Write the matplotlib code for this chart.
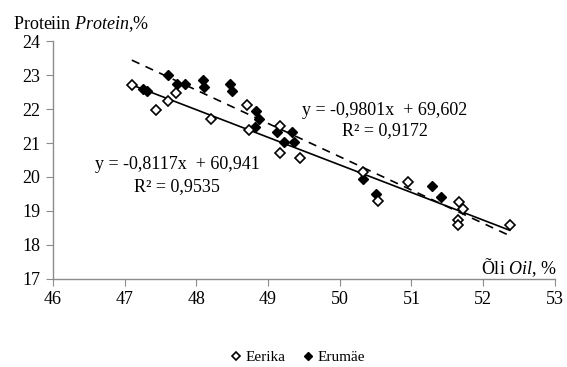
import numpy as np
import matplotlib.pyplot as plt
from matplotlib.lines import Line2D

plt.rcParams['font.family'] = ['Liberation Serif', 'DejaVu Serif']
plt.rcParams['mathtext.fontset'] = 'custom'
plt.rcParams['mathtext.rm'] = 'Liberation Serif'
plt.rcParams['mathtext.it'] = 'Liberation Serif:italic'

# Eerika (avatud rombid)
eerika_oil = [47.10, 47.43, 47.61, 47.71, 48.21, 48.70, 48.73, 49.16, 49.17,
              49.44, 50.32, 50.54, 50.95, 51.67, 51.72, 51.65, 51.65, 52.37]
eerika_prot = [22.70, 21.98, 22.23, 22.46, 21.72, 22.13, 21.37, 21.51, 20.70,
               20.57, 20.15, 19.28, 19.86, 19.26, 19.06, 18.72, 18.59, 18.60]

# Erumäe (täidetud rombid)
erumae_oil = [47.26, 47.31, 47.61, 47.73, 47.84, 48.09, 48.10, 48.47, 48.50,
              48.83, 48.88, 48.82, 49.12, 49.22, 49.34, 49.36, 50.32, 50.51,
              51.29, 51.41]
erumae_prot = [22.60, 22.53, 23.00, 22.75, 22.75, 22.85, 22.65, 22.73, 22.53,
               21.95, 21.72, 21.46, 21.32, 21.02, 21.32, 21.02, 19.93, 19.51,
               19.74, 19.41]

# trendijooned
solid_k, solid_b = -0.8117, 60.941
dash_k, dash_b = -0.9801, 69.602
trend_x = [47.1, 52.37]

fig = plt.figure(figsize=(5.67, 3.67), dpi=100)
ax = fig.add_axes([0.0935, 0.240, 0.885, 0.648])

x = np.array(trend_x)
ax.plot(x, dash_k * x + dash_b, color='black', lw=1.2, ls=(0, (5, 4)), zorder=1)
ax.plot(x, solid_k * x + solid_b, color='black', lw=1.2, zorder=1)

ax.plot(eerika_oil, eerika_prot, 'D', ms=5.2, mfc='white', mec='black', mew=1.2,
        ls='none', zorder=3)
ax.plot(erumae_oil, erumae_prot, 'D', ms=5.2, mfc='black', mec='black', mew=1.0,
        ls='none', zorder=2)

ax.set_xlim(46, 53)
ax.set_ylim(17, 24)
ax.set_xticks(range(46, 54))
ax.set_yticks(range(17, 25))
for s in ['top', 'right']:
    ax.spines[s].set_visible(False)
for s in ['left', 'bottom']:
    ax.spines[s].set_color('#8c8c8c')
    ax.spines[s].set_linewidth(1.0)
ax.tick_params(direction='out', length=5, color='#8c8c8c', labelsize=13, pad=4)

# võrrandid
ax.text(50.63, 21.97, 'y = -0,9801x  + 69,602', fontsize=13, ha='center', va='center')
ax.text(50.63, 21.38, 'R² = 0,9172', fontsize=13, ha='center', va='center')
ax.text(47.73, 20.38, 'y = -0,8117x  + 60,941', fontsize=13, ha='center', va='center')
ax.text(47.73, 19.71, 'R² = 0,9535', fontsize=13, ha='center', va='center')

# telgede pealkirjad
fig.text(0.023, 0.935, 'Proteiin $\\it{Protein}$,%', fontsize=13, ha='left', va='center')
fig.text(0.982, 0.270, 'Õli $\\it{Oil}$, %', fontsize=13, ha='right', va='center')

handles = [Line2D([], [], marker='D', ms=4, mfc='white', mec='black', mew=1.2, ls='none'),
           Line2D([], [], marker='D', ms=4, mfc='black', mec='black', ls='none')]
fig.legend(handles, ['Eerika', 'Erumäe'], loc='center', bbox_to_anchor=(0.523, 0.027),
           ncol=2, frameon=False, fontsize=11, handletextpad=0.1, columnspacing=1.0,
           handlelength=1.0)

fig.savefig('out.png', dpi=100)
